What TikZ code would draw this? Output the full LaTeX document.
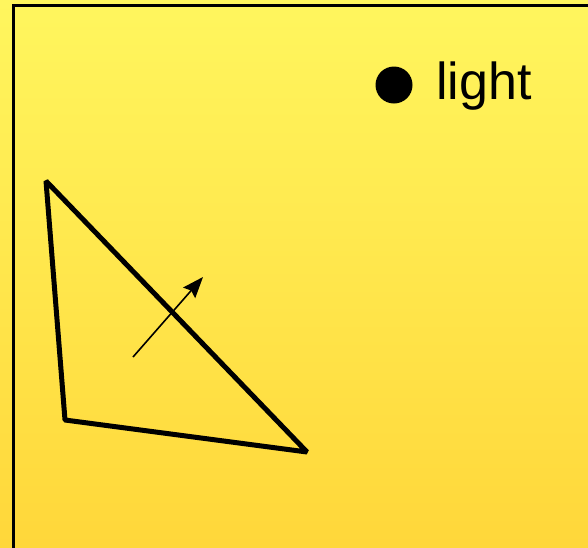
\documentclass[tikz,border=0pt]{standalone}
\usepackage{fontspec}
\setmainfont{Liberation Sans}
\usetikzlibrary{arrows.meta, positioning}
\definecolor{bgtop}{RGB}{255,246,94}
\definecolor{bgbottom}{RGB}{255,215,58}

\begin{document}
\begin{tikzpicture}[
    x=1pt, y=-1pt,
    >=Stealth,
    edge/.style={line width=5pt, line join=bevel, black},
    normal/.style={-{Stealth[length=21pt, width=16pt, inset=3pt]}, line width=1.6pt, black},
]

%--- Frame size ---
\def\W{588}
\def\H{547}

%============================================================
% Background and frame
%============================================================
\shade[top color=bgtop, bottom color=bgbottom] (0,0) rectangle (\W,\H);
\useasboundingbox (0,0) rectangle (\W,\H);
\draw[line width=2.2pt, black] (13.5,5.5) rectangle (\W+5,\H+5);

%============================================================
% Light source
%============================================================
\fill[black] (394,85) circle (18.5) coordinate (lightdot);
\node[anchor=base west, inner sep=0pt, font=\fontsize{52}{60}\selectfont]
    (lightlabel) at (436,99) {light};

%============================================================
% Triangle
%============================================================
\coordinate (va) at (46,181);
\coordinate (vb) at (65,420);
\coordinate (vc) at (307,452);
\draw[edge] (va) -- (vb) -- (vc) -- cycle;

%============================================================
% Normal vector
%============================================================
\coordinate (nstart) at (133,357);
\coordinate (ntip) at (203,277);
\draw[normal] (nstart) -- (ntip);

\end{tikzpicture}
\end{document}
